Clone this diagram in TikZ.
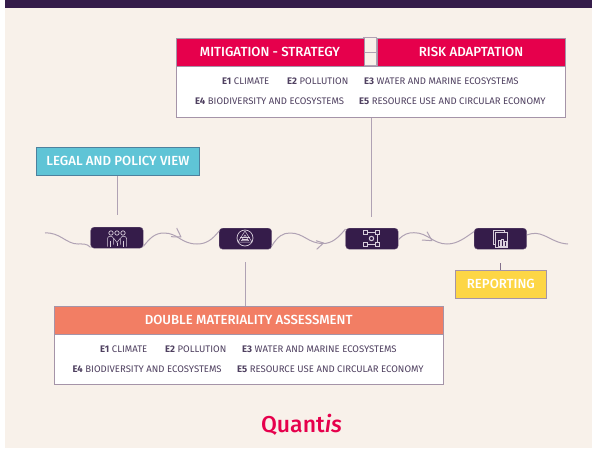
\documentclass[tikz,border=0pt]{standalone}
\usepackage{fontspec}
\setmainfont{Fira Sans}
\newfontfamily\medfont{Fira Sans Medium}
\usetikzlibrary{calc}
\definecolor{dark}{HTML}{351C4A}
\definecolor{cream}{HTML}{F8F1EA}
\definecolor{crimson}{HTML}{E6004C}
\definecolor{teal}{HTML}{5FC4D6}
\definecolor{coral}{HTML}{F27E64}
\definecolor{sun}{HTML}{FDD645}
\definecolor{edge}{HTML}{A594A8}
\definecolor{wire}{HTML}{B0A2B4}
\definecolor{body}{HTML}{4F4060}
\definecolor{iconc}{HTML}{D9CFDC}
\newcommand{\hdlift}[1]{\raisebox{.9pt}{#1}}
\tikzset{
  x=1pt,y=-1pt,
  hbox/.style={draw=edge,line width=.8pt,inner sep=0pt,text=white,font=\fontsize{13.2}{14}\medfont},
  panel/.style={draw=edge,line width=.9pt,fill=white,inner sep=0pt},
  item/.style={anchor=west,inner sep=0pt,text=body,font=\fontsize{9.55}{11}\selectfont},
  stepnode/.style={fill=dark,draw=edge!50!dark,line width=.4pt,rounded corners=3.5pt,minimum width=52.5pt,minimum height=21pt,inner sep=0pt},
  wave/.style={draw=wire,line width=1pt,line join=round},
  linkline/.style={draw=wire,line width=.9pt},
  ico/.style={draw=iconc,line width=.5pt}
}
\begin{document}
\begin{tikzpicture}
\useasboundingbox (0,0) rectangle (592,450);
\fill[white] (0,0) rectangle (592,450);
\fill[cream] (5,8) rectangle (592,448);
\fill[dark] (5,0) rectangle (592,8);

% top group
\node[panel,minimum width=389pt,minimum height=51pt,anchor=north west] (tpanel) at (175.6,65.7) {};
\draw[linkline] (363.6,37.7) rectangle (376.6,65.7);
\draw[linkline] (363.6,52.5) -- (376.6,52.5);
\node[hbox,fill=crimson,minimum width=188pt,minimum height=28pt,anchor=north west] (mit) at (175.6,37.7) {\hdlift{MITIGATION - STRATEGY}};
\node[hbox,fill=crimson,minimum width=188pt,minimum height=28pt,anchor=north west] (risk) at (376.6,37.7) {\hdlift{RISK ADAPTATION}};
\node[item] (a1) at (222,81) {\textbf{E1} CLIMATE};
\node[item] (a2) at (287,81) {\textbf{E2} POLLUTION};
\node[item] (a3) at (364,81) {\textbf{E3} WATER AND MARINE ECOSYSTEMS};
\node[item] (a4) at (195,101) {\textbf{E4} BIODIVERSITY AND ECOSYSTEMS};
\node[item] (a5) at (359,101) {\textbf{E5} RESOURCE USE AND CIRCULAR ECONOMY};

% legal
\node[hbox,fill=teal,draw=teal!60!dark,minimum width=163pt,minimum height=28pt,anchor=north west] (legal) at (36,147) {LEGAL AND POLICY VIEW};

% steps
\node[stepnode,anchor=north west] (n1) at (90.5,227) {};
\node[stepnode,anchor=north west] (n2) at (219,228) {};
\node[stepnode,anchor=north west] (n3) at (345.5,228) {};
\node[stepnode,anchor=north west] (n4) at (474,228) {};
\coordinate (wstart) at (45,233);
\coordinate (wend) at (568,244);
\coordinate (l1end) at (117,215);
\coordinate (l2end) at (245,262);
\coordinate (l3end) at (371.5,217);
\coordinate (l4end) at (500.5,263);

% waves
\draw[wave] (wstart) .. controls (60,232) and (66,244) .. (78,244) .. controls (83,244) and (87,243.5) .. (n1.-160);
\draw[wave] (n1.-18) .. controls (150,238) and (155,233) .. (164,233) .. controls (178,233) and (181,244) .. (197,244) .. controls (206,244) and (212,240) .. (n2.164);
\draw[wave] (171,236.7) -- (181,237) -- (176.7,228);
\draw[wave] (n2.-15) .. controls (278,236) and (283,233) .. (290,233) .. controls (304,233) and (308,243.5) .. (323,243.5) .. controls (332,243.5) and (338,238) .. (n3.160);
\draw[wave] (316,240.7) -- (323.5,243) -- (316.7,249.3);
\draw[wave] (n3.-2) .. controls (404,234) and (408,232.7) .. (414,232.7) .. controls (428,232.7) and (433,244) .. (447,244) .. controls (458,244) and (466,237) .. (n4.165);
\draw[wave] (422,240) -- (432,240.7) -- (427,231.7);
\draw[wave] (n4.8) .. controls (534,232.5) and (538,233) .. (544,235.5) .. controls (552,239) and (558,243.5) .. (wend);

% links
\draw[linkline] (tpanel.south -| l3end) -- (l3end);
\draw[linkline] (legal.south -| l1end) -- (l1end);

% icons
\begin{scope}[shift={(117,237.5)}]
  \foreach \i in {-6,0,6}{ \draw[ico,line width=.7pt] (\i,-4.5) circle (2.2); }
  \draw[ico] (-9.5,9) -- (-9.5,1) .. controls (-9.5,-2) and (-4,-2) .. (-3.5,1) -- (-3.5,7);
  \draw[ico] (3.5,7) -- (3.5,1) .. controls (4,-2) and (9.5,-2) .. (9.5,1) -- (9.5,9);
  \draw[ico] (-3,1) -- (0,5) -- (3,1);
  \draw[ico] (0,5) -- (0,8);
  \draw[ico] (-6.5,3) -- (-6.5,9);
  \draw[ico] (6.5,3) -- (6.5,9);
\end{scope}
\begin{scope}[shift={(245,238)}]
  \draw[ico,line width=.7pt] (0,0) circle (8);
  \draw[ico] (0,-7) -- (7,4) -- (-7,4) -- cycle;
  \draw[ico] (0,-3) -- (3.5,2.5) -- (-3.5,2.5) -- cycle;
  \draw[ico] (-5,-1) -- (5,-1);
  \draw[ico] (-3,1) -- (3,1);
\end{scope}
\begin{scope}[shift={(371.5,238.5)}]
  \draw[ico] (-8,-8) rectangle (-4,-4);
  \draw[ico] (4,-8) rectangle (8,-4);
  \draw[ico] (-8,4) rectangle (-4,8);
  \draw[ico] (4,4) rectangle (8,8);
  \draw[ico] (-4,-6) -- (4,-6);
  \draw[ico] (6,-4) -- (6,4);
  \draw[ico] (-4,6) -- (4,6);
  \draw[ico,line width=1pt] (0,0) circle (2.2);
\end{scope}
\begin{scope}[shift={(500.5,238.5)}]
  \draw[ico,fill=dark] (-7.5,-8) rectangle (4,6);
  \draw[ico,fill=dark] (-5.5,-6) rectangle (7,9);
  \draw[ico] (-2.5,7.5) rectangle (-.5,2);
  \draw[ico] (1,7.5) rectangle (3,1);
  \draw[ico] (3.6,7.5) rectangle (5.4,3);
\end{scope}

% reporting
\node[hbox,fill=sun,minimum width=91pt,minimum height=28pt,anchor=north west] (rep) at (455,270) {\hdlift{REPORTING}};
\draw[linkline,draw=edge!70!dark] (rep.north -| l4end) -- (l4end);

% double materiality
\node[panel,minimum width=389.5pt,minimum height=50.5pt,anchor=north west] (bpanel) at (53.5,333.5) {};
\node[hbox,fill=coral,minimum width=389.5pt,minimum height=27.5pt,anchor=north west] (dma) at (53.5,306) {DOUBLE MATERIALITY ASSESSMENT};
\draw[linkline] (dma.north -| l2end) -- (l2end);
\node[item] (b1) at (100,349) {\textbf{E1} CLIMATE};
\node[item] (b2) at (165,349) {\textbf{E2} POLLUTION};
\node[item] (b3) at (242,349) {\textbf{E3} WATER AND MARINE ECOSYSTEMS};
\node[item] (b4) at (72.5,369) {\textbf{E4} BIODIVERSITY AND ECOSYSTEMS};
\node[item] (b5) at (237,369) {\textbf{E5} RESOURCE USE AND CIRCULAR ECONOMY};

% logo
\node[anchor=center,inner sep=0pt,text=crimson,font=\fontsize{23}{26}\medfont] (logo) at (301.5,424.5) {Quant{\itshape is}};
\end{tikzpicture}
\end{document}
